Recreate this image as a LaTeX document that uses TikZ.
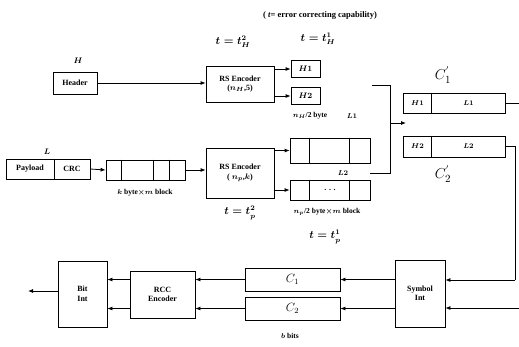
\documentclass[tikz,border=0pt]{standalone}
\usepackage{fontspec}
\setmainfont{Liberation Serif}
\usetikzlibrary{arrows.meta}
\begin{document}
\begin{tikzpicture}[x=1pt,y=-1pt,
  box/.style={draw, line width=0.8pt, inner sep=0pt, align=center,
    font=\bfseries\boldmath\fontsize{8}{9.5}\selectfont},
  lbl/.style={inner sep=0pt, font=\bfseries\boldmath\fontsize{7.5}{9}\selectfont},
  mlbl/.style={inner sep=0pt, font=\boldmath\fontsize{10.5}{12}\selectfont},
  arr/.style={line width=0.8pt, -{Latex[length=5pt,width=4pt]}},
  ln/.style={line width=0.8pt}]
\useasboundingbox (0,0) rectangle (519,346);
% top texts
\node[lbl, font=\bfseries\fontsize{8.5}{10}\selectfont] (cap) at (320,15) {( \textit{t}= error correcting capability)};
\node[mlbl] (th2) at (233,42) {$t=t_H^2$};
\node[mlbl] (th1) at (318,39) {$t=t_H^1$};
\node[mlbl, font=\boldmath\fontsize{8.5}{9}\selectfont] (hl) at (78,61) {$H$};
% header branch
\node[box, minimum width=44pt, minimum height=22pt] (hdr) at (75,83) {Header};
\node[box, minimum width=68pt, minimum height=36pt] (rs1) at (240,84) {RS Encoder\\($n_H$,5)};
\node[box, minimum width=29pt, minimum height=17pt] (h1) at (305.5,69) {$H1$};
\node[box, minimum width=29pt, minimum height=17pt] (h2) at (305.5,96) {$H2$};
\draw[arr] (hdr.east) -- (rs1.west |- hdr.east);
\draw[arr] (rs1.east |- h1) -- (h1.west);
\draw[arr] (rs1.east |- h2) -- (h2.west);
\node[lbl] (nh) at (310,116) {$n_H$/2 byte};
\node[lbl] (l1l) at (352,116) {$L1$};
% payload branch
\node[mlbl, font=\boldmath\fontsize{8.5}{9}\selectfont] (ll) at (47,152) {$L$};
\node[box, minimum width=48pt, minimum height=20pt] (pl) at (30,169) {Payload};
\node[box, minimum width=36pt, minimum height=20pt] (crc) at (72,169) {CRC};
\node[box, minimum width=79pt, minimum height=20pt] (kb) at (145.5,170) {};
\foreach \d in {16,48,64} \draw[ln] ([xshift=\d pt]kb.north west) -- ([xshift=\d pt]kb.south west);
\node[lbl] (kbl) at (145,193) {$k$ byte$\times m$ block};
\node[box, minimum width=68pt, minimum height=50pt] (rs2) at (240,173) {RS Encoder\\( $n_p$,$k$)};
\draw[arr] (crc.east) -- (kb.west);
\draw[arr] (kb.east) -- (rs2.west |- kb.east);
\node[mlbl] (tp2) at (240,213) {$t=t_p^2$};
\node[box, minimum width=80pt, minimum height=25pt] (l1b) at (330,150.5) {};
\node[box, minimum width=80pt, minimum height=20pt] (l2b) at (330,190) {. . .};
\foreach \d in {20,60} {
  \draw[ln] ([xshift=\d pt]l1b.north west) -- ([xshift=\d pt]l1b.south west);
  \draw[ln] ([xshift=\d pt]l2b.north west) -- ([xshift=\d pt]l2b.south west);}
\draw[arr] (rs2.east |- l1b) -- (l1b.west);
\draw[arr] (rs2.east |- l2b) -- (l2b.west);
\node[lbl] (l2l) at (343,173) {$L2$};
\node[lbl] (npl) at (327,212) {$n_p$/2 byte$\times m$ block};
\node[mlbl] (tp1) at (325,237) {$t=t_p^1$};
% bracket
\coordinate (ba) at (372,85);
\coordinate (bb) at (390,85);
\coordinate (bc) at (390,173);
\coordinate (bd) at (370,173);
\coordinate (bm) at (390,123);
\coordinate (be) at (406,123);
\draw[ln] (ba) -- (bb) -- (bc) -- (bd);
\draw[arr] (bm) -- (be);
% combined codewords
\node[box, minimum width=102pt, minimum height=20pt] (c1p) at (454,103) {};
\node[box, minimum width=102pt, minimum height=21pt] (c2p) at (454,146.5) {};
\draw[ln] ([xshift=29pt]c1p.north west) -- ([xshift=29pt]c1p.south west);
\draw[ln] ([xshift=29pt]c2p.north west) -- ([xshift=29pt]c2p.south west);
\node[lbl] (c1h) at (417.5,103) {$H1$};
\node[lbl] (c1l) at (468.5,103) {$L1$};
\node[lbl] (c2h) at (417.5,146.5) {$H2$};
\node[lbl] (c2l) at (468.5,146.5) {$L2$};
\node[mlbl, font=\fontsize{15}{17}\selectfont] (c1pl) at (443,75) {$C_1^{'}$};
\node[mlbl, font=\fontsize{15}{17}\selectfont] (c2pl) at (443,174) {$C_2^{'}$};
\coordinate (r1) at (519,103);
\coordinate (r2a) at (515,146.5);
\coordinate (r2b) at (515,280);
\coordinate (r3) at (519,308);
\draw[ln] (c1p.east) -- (r1);
% bottom chain
\node[box, minimum width=50pt, minimum height=67pt] (si) at (420,293.5) {Symbol\\Int};
\node[box, minimum width=95pt, minimum height=23pt, font=\fontsize{12}{13}\selectfont] (c1) at (292.5,279.5) {$C_1$};
\node[box, minimum width=95pt, minimum height=23pt, font=\fontsize{12}{13}\selectfont] (c2) at (292.5,308.5) {$C_2$};
\node[box, minimum width=65pt, minimum height=47pt] (rcc) at (162.5,294.5) {RCC\\Encoder};
\node[box, minimum width=49pt, minimum height=66pt] (bi) at (82.5,294) {Bit\\Int};
\coordinate (out) at (28,291);
\draw[ln] (c2p.east) -- (r2a) -- (r2b);
\draw[arr] (r2b) -- (si.east |- r2b);
\draw[arr] (r3) -- (si.east |- r3);
\draw[arr] (si.west |- c1) -- (c1.east);
\draw[arr] (si.west |- c2) -- (c2.east);
\draw[arr] (c1.west) -- (rcc.east |- c1.west);
\draw[arr] (c2.west) -- (rcc.east |- c2.west);
\draw[arr] (rcc.west |- c1) -- (bi.east |- c1);
\draw[arr] (rcc.west |- c2) -- (bi.east |- c2);
\draw[arr] (bi.west |- out) -- (out);
\node[lbl] (bb2) at (290,336) {$b$ bits};
\end{tikzpicture}
\end{document}
